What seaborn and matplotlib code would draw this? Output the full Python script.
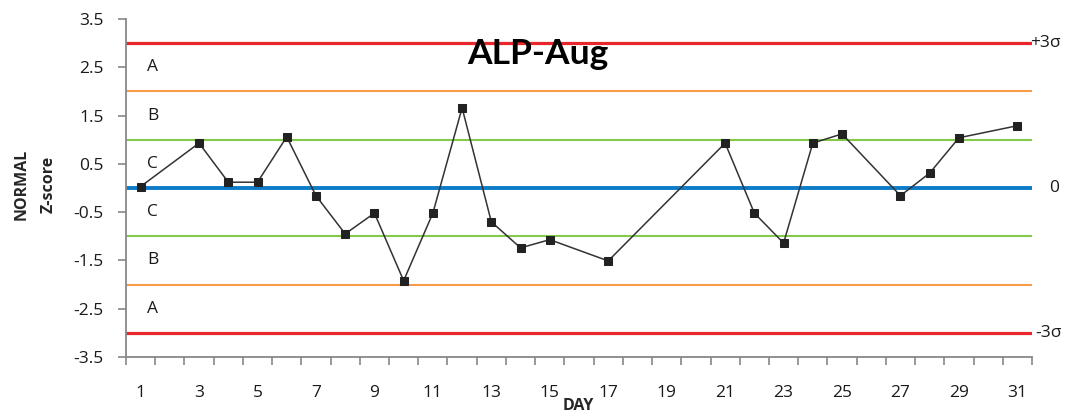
import matplotlib
matplotlib.use("Agg")
import matplotlib.pyplot as plt
import seaborn as sns
import pandas as pd

# Daily ALP z-scores (August), missing days are skipped and the line joins across
days = [1, 3, 4, 5, 6, 7, 8, 9, 10, 11, 12, 13, 14, 15, 17, 21, 22, 23, 24, 25, 27, 28, 29, 31]
zscores = [0.03, 0.93, 0.12, 0.12, 1.06, -0.16, -0.95, -0.52, -1.92, -0.52, 1.66, -0.70,
           -1.24, -1.07, -1.51, 0.93, -0.52, -1.14, 0.93, 1.12, -0.16, 0.31, 1.04, 1.29]

# Control limits and zone labels
limit_levels = [3, 2, 1, 0, -1, -2, -3]
limit_colors = ["#e8262b", "#f79a4a", "#84c94a", "#0c7bc8", "#84c94a", "#f79a4a", "#e8262b"]
zone_levels = [2.5, 1.5, 0.5, -0.5, -1.5, -2.5]
zone_names = ["A", "B", "C", "C", "B", "A"]
yticks = [3.5, 2.5, 1.5, 0.5, -0.5, -1.5, -2.5, -3.5]
xlabels = list(range(1, 32, 2))

df = pd.DataFrame({"day": days, "z": zscores})

sns.set_style("white")
plt.rcParams["font.family"] = ["Open Sans", "DejaVu Sans"]

fig = plt.figure(figsize=(10.65, 4.16), dpi=100)
ax = fig.add_axes([126 / 1065, 1 - 357 / 416, (1032 - 126) / 1065, (357 - 19) / 416])

widths = {3: 2.3, 2: 1.5, 1: 1.5, 0: 2.8}
for lvl, col in zip(limit_levels, limit_colors):
    ax.axhline(lvl, color=col, lw=widths[abs(lvl)], zorder=1)

sns.lineplot(data=df, x="day", y="z", ax=ax, color="#333333", lw=1.1,
             marker="s", markersize=6, markeredgecolor="#222222", markerfacecolor="#222222",
             zorder=3)

for lvl, name in zip(zone_levels, zone_names):
    ax.text(1.42, lvl, name, ha="center", va="center", fontsize=12.5, color="#1a1a1a")

ax.text(31.42, 3, "+3σ", ha="left", va="center", fontsize=12.5, color="#1a1a1a", clip_on=False)
ax.text(32.1, 0, "0", ha="left", va="center", fontsize=12.5, color="#1a1a1a", clip_on=False)
ax.text(31.6, -3, "-3σ", ha="left", va="center", fontsize=12.5, color="#1a1a1a", clip_on=False)

ax.text(0.455, 0.895, "ALP-Aug", transform=ax.transAxes, ha="center", va="center",
        fontsize=25.5, fontweight="bold", color="black", family=["Lato", "DejaVu Sans"])

ax.set_xlim(0.5, 31.5)
ax.set_ylim(-3.5, 3.5)
ax.set_yticks(yticks)
ax.set_yticklabels([f"{v:g}" for v in yticks])
ax.set_xticks(xlabels)
ax.set_xticks([d + 0.5 for d in range(0, 32)], minor=True)
ax.tick_params(axis="x", which="major", length=0, pad=20, labelsize=12.5, labelcolor="#1a1a1a")
ax.tick_params(axis="x", which="minor", length=6, width=1.2, color="#888888", direction="out",
               bottom=True)
ax.tick_params(axis="y", length=6, width=1.2, color="#888888", pad=10, labelsize=12.5,
               labelcolor="#1a1a1a", left=True, direction="out")

for s in ["top", "right"]:
    ax.spines[s].set_visible(False)
for s in ["left", "bottom"]:
    ax.spines[s].set_color("#888888")
    ax.spines[s].set_linewidth(1.3)

ax.set_xlabel("")
ax.set_ylabel("")
fig.text(22 / 1065, 1 - 184 / 416, "NORMAL", rotation=90, ha="center", va="center",
         fontsize=11.5, fontweight="bold")
fig.text(49 / 1065, 1 - 184 / 416, "Z-score", rotation=90, ha="center", va="center",
         fontsize=11.5, fontweight="bold")
# the reference crops this label at the bottom edge; keep it just inside the figure
fig.text(578 / 1065, 1.5 / 416, "DAY", ha="center", va="bottom", fontsize=11.5,
         fontweight="bold")

fig.savefig("out.png", dpi=100)
